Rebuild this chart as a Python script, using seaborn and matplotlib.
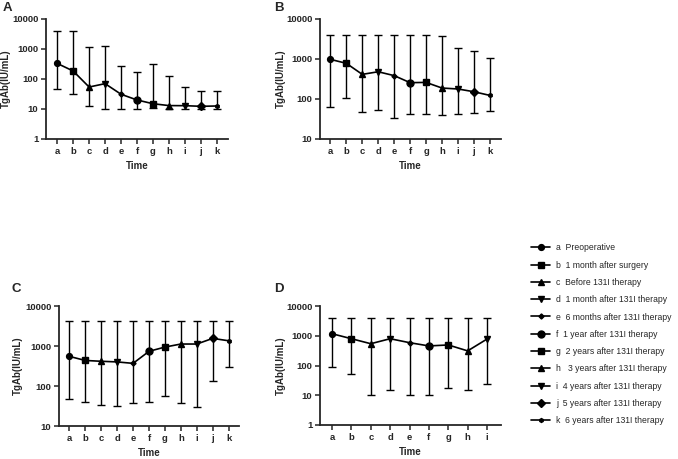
import numpy as np
import pandas as pd
import matplotlib
matplotlib.use("Agg")
import matplotlib.pyplot as plt
from matplotlib.lines import Line2D
import seaborn as sns

sns.set_style("ticks")
plt.rcParams['font.family'] = ['Liberation Sans', 'DejaVu Sans']

# ---------------- data ----------------
labels_all = ["a", "b", "c", "d", "e", "f", "g", "h", "i", "j", "k"]
legend_texts = ["a  Preoperative", "b  1 month after surgery", "c  Before 131I therapy",
                "d  1 month after 131I therapy", "e  6 months after 131I therapy",
                "f  1 year after 131I therapy", "g  2 years after 131I therapy",
                "h   3 years after 131I therapy", "i  4 years after 131I therapy",
                "j  5 years after 131I therapy", "k  6 years after 131I therapy"]

a_mid = [331, 185, 54, 70, 31, 20, 15, 13, 12.9, 12.3, 12.6]
a_hi = [4070, 4000, 1140, 1290, 270, 175, 316, 123, 56, 39, 40]
a_lo = [45, 31, 13, 10, 10, 10, 10.5, 10, 10, 10, 10]

b_mid = [980, 780, 413, 480, 384, 256, 260, 188, 178, 152, 123]
b_hi = [4070, 4070, 4070, 4070, 4070, 4070, 4070, 3700, 1920, 1550, 1060]
b_lo = [64, 108, 46, 52, 34, 43, 41, 40, 41, 45, 51]

c_mid = [550, 435, 415, 400, 368, 736, 940, 1120, 1120, 1550, 1350]
c_hi = [4200, 4200, 4200, 4200, 4200, 4200, 4200, 4200, 4200, 4200, 4200]
c_lo = [46, 39, 33, 32, 37, 39, 56, 37, 30, 133, 300]

d_mid = [1170, 795, 540, 795, 585, 455, 490, 310, 776]
d_hi = [4000, 4000, 4000, 4000, 4000, 4000, 4000, 4000, 4000]
d_lo = [90, 50, 10, 15, 10, 10, 17, 15, 23]

markers_all = ["o", "s", "^", "v", "D", "o", "s", "^", "v", "D", "h"]
msizes_all = [4.2, 3.8, 4.0, 4.0, 2.6, 5.0, 4.8, 4.8, 4.8, 4.0, 2.8]

# ---------------- figure ----------------
W, H = 678, 459
fig = plt.figure(figsize=(W / 100, H / 100), dpi=100)


def px_axes(l, t, r, b):
    return fig.add_axes([l / W, 1 - b / H, (r - l) / W, (b - t) / H]), (r - l)


def panel(axw, mid, hi, lo, ylim, yticks, xlim, letter, lx, ly, ylab_off):
    ax, wpx = axw
    n = len(mid)
    labs = labels_all[:n]
    df = pd.DataFrame({"x": np.arange(n), "y": mid, "lab": labs})
    ax.set_yscale("log")
    yerr = np.array([np.array(mid) - np.array(lo), np.array(hi) - np.array(mid)])
    ax.errorbar(df["x"], df["y"], yerr=yerr, fmt="none", ecolor="black",
                elinewidth=1.0, capsize=2.6, capthick=1.0, zorder=2)
    sns.lineplot(data=df, x="x", y="y", ax=ax, color="black", lw=1.2,
                 zorder=3, legend=False)
    for i in range(n):
        ax.plot(df["x"][i], df["y"][i], marker=markers_all[i], ms=msizes_all[i],
                color="black", zorder=4, ls="none")
    ax.set_xlim(*xlim)
    ax.set_ylim(*ylim)
    ax.set_yticks(yticks)
    ax.set_yticklabels([str(t) for t in yticks])
    ax.yaxis.set_minor_locator(matplotlib.ticker.NullLocator())
    ax.set_xticks(np.arange(n))
    ax.set_xticklabels(labs)
    for s in ["top", "right"]:
        ax.spines[s].set_visible(False)
    for s in ["left", "bottom"]:
        ax.spines[s].set_linewidth(1.3)
    ax.tick_params(axis="both", which="major", length=3.5, width=1.1,
                   labelsize=6.8, pad=2, direction="out")
    for t in ax.get_xticklabels() + ax.get_yticklabels():
        t.set_fontweight("bold")
    ax.set_xlabel("Time", fontsize=7, fontweight="bold", labelpad=4)
    ax.set_ylabel("TgAb(IU/mL)", fontsize=7, fontweight="bold")
    ax.yaxis.set_label_coords(-ylab_off / wpx, 0.5)
    fig.text(lx / W, 1 - ly / H, letter, fontsize=9.5, fontweight="bold",
             ha="left", va="center")


panel(px_axes(46, 19, 228, 139), a_mid, a_hi, a_lo, (1, 10000),
      [1, 10, 100, 1000, 10000], (-0.7, 10.7), "A", 3, 8, 35)

panel(px_axes(320, 19, 501, 139), b_mid, b_hi, b_lo, (10, 10000),
      [10, 100, 1000, 10000], (-0.65, 10.7), "B", 274, 8, 34)

panel(px_axes(59, 306, 239, 426), c_mid, c_hi, c_lo, (10, 10000),
      [10, 100, 1000, 10000], (-0.65, 10.65), "C", 12, 289, 36)

panel(px_axes(320, 306, 501, 425), d_mid, d_hi, d_lo, (1, 10000),
      [1, 10, 100, 1000, 10000], (-0.62, 8.72), "D", 274, 289, 34)

# legend
handles = [Line2D([0], [0], color="black", lw=1.2, marker=m, ms=s)
           for m, s in zip(markers_all, msizes_all)]
fig.legend(handles, legend_texts, loc="upper left",
           bbox_to_anchor=(528 / W, 1 - 240 / H), frameon=False,
           fontsize=6.2, handlelength=2.2, handletextpad=0.7,
           labelspacing=0.96, borderaxespad=0)

fig.savefig("out.png", dpi=100)
